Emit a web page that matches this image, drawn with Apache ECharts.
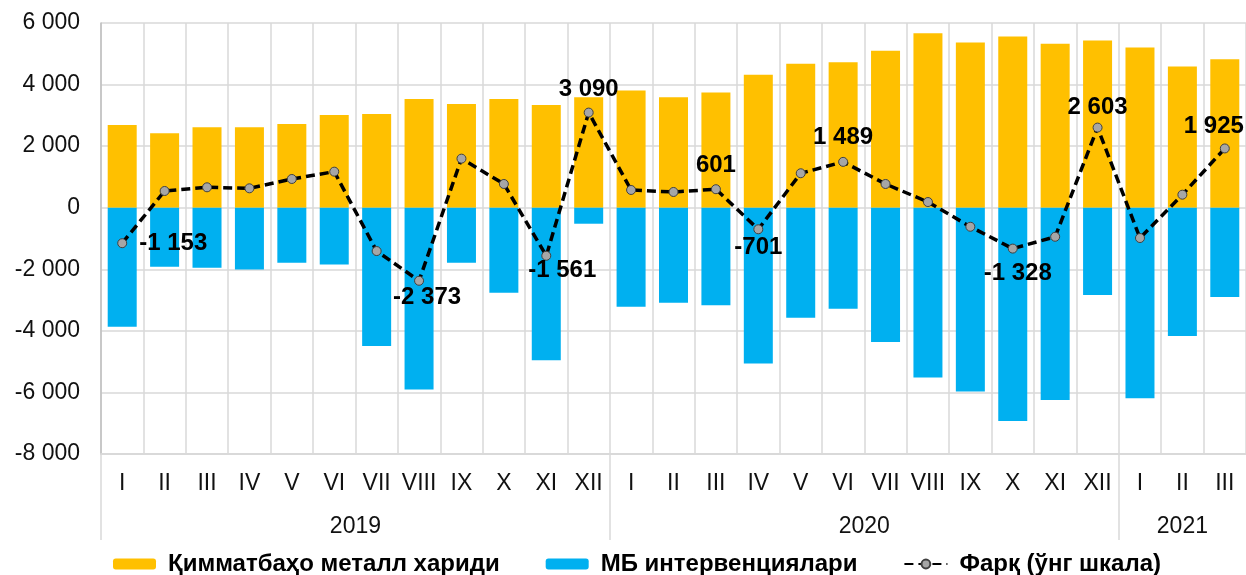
<!DOCTYPE html>
<html>
<head>
<meta charset="utf-8">
<script src="https://cdn.jsdelivr.net/npm/echarts@6/dist/echarts.min.js"></script>
<style>
  html, body { margin: 0; padding: 0; background: #fff; }
  #chart { width: 1246px; height: 575px; }
</style>
</head>
<body>
<div id="chart"></div>
<script>
// months, 2019 I .. 2021 III
const months = ['I', 'II', 'III', 'IV', 'V', 'VI', 'VII', 'VIII', 'IX', 'X', 'XI', 'XII',
  'I', 'II', 'III', 'IV', 'V', 'VI', 'VII', 'VIII', 'IX', 'X', 'XI', 'XII',
  'I', 'II', 'III'];
const years = ['2019', '2020', '2021'];
const monthsPerYear = [12, 12, 3];

// Қимматбаҳо металл хариди (yellow)
const metalPurchase = [2690, 2420, 2615, 2615, 2720, 3015, 3047, 3535, 3372, 3535, 3340, 3590,
  3805, 3590, 3740, 4315, 4673, 4728, 5096, 5671, 5366, 5561, 5323, 5431,
  5203, 4585, 4826];
// МБ интервенциялари (blue)
const cbInterventions = [-3870, -1919, -1951, -2004, -1789, -1842, -4488, -5906, -1789, -2764, -4954, -520,
  -3220, -3090, -3165, -5060, -3577, -3284, -4358, -5516, -5971, -6927, -6244, -2839,
  -6189, -4163, -2904];
// Фарқ (line)
const difference = [-1153, 543, 663, 630, 933, 1171, -1408, -2373, 1594, 771, -1561, 3090,
  576, 511, 601, -701, 1119, 1489, 771, 185, -618, -1328, -943, 2603,
  -985, 423, 1925];

// which points get a value label, and where
const labelled = {
  0: { position: 'right', distance: 12 },
  7: { position: 'bottom', distance: 0, offset: [8, 0] },
  10: { position: 'bottom', distance: -2, offset: [16, 0] },
  11: { position: 'top', distance: 6 },
  14: { position: 'top', distance: 7 },
  15: { position: 'bottom', distance: 1 },
  17: { position: 'top', distance: 7 },
  21: { position: 'bottom', distance: 8, offset: [5, 0] },
  23: { position: 'top', distance: 3 },
  26: { position: 'top', distance: 5, offset: [-11, 0] }
};

function fmt(v) {
  return String(v).replace(/\B(?=(\d{3})+(?!\d))/g, ' ');
}

// year boundaries (start of each year) and centres on the month scale
const yearTicks = [];
const yearCentres = [];
let start = 0;
monthsPerYear.forEach(function (n) {
  yearTicks.push(start);
  yearCentres.push(start + n / 2);
  start += n;
});

const FONT = '"Liberation Sans", Arial, sans-serif';
const GRID = '#d9d9d9';
const chart = echarts.init(document.getElementById('chart'));

const lineData = difference.map(function (v, i) {
  const cfg = labelled[i];
  if (!cfg) return v;
  return { value: v, label: Object.assign({ show: true }, cfg) };
});

chart.setOption({
  animation: false,
  textStyle: { fontFamily: FONT },
  grid: { left: 101, right: -3, top: 23, bottom: 121 },
  legend: {
    bottom: -6,
    left: 108,
    itemGap: 46,
    itemWidth: 43,
    itemHeight: 11,
    textStyle: { fontSize: 24, fontWeight: 'bold', color: '#000', padding: [0, 0, 0, 7] },
    data: ['Қимматбаҳо металл хариди', 'МБ интервенциялари', 'Фарқ (ўнг шкала)']
  },
  xAxis: [
    {
      type: 'category',
      data: months,
      axisLine: { onZero: false, lineStyle: { color: GRID, width: 1.5 } },
      axisTick: { show: false },
      splitLine: { show: true, lineStyle: { color: GRID, width: 1.5 } },
      axisLabel: { interval: 0, fontSize: 23, color: '#111', margin: 18 }
    },
    {
      type: 'value',
      min: 0,
      max: months.length,
      position: 'bottom',
      axisLine: { show: true, onZero: false, lineStyle: { color: GRID, width: 1.5 } },
      splitLine: { show: false },
      axisTick: {
        show: true,
        inside: false,
        customValues: yearTicks,
        length: 86,
        lineStyle: { color: GRID, width: 1.5 }
      },
      axisLabel: {
        customValues: yearCentres,
        fontSize: 23,
        color: '#111',
        margin: 61,
        formatter: function (v) {
          const i = yearCentres.indexOf(v);
          return i >= 0 ? years[i] : '';
        }
      }
    }
  ],
  yAxis: {
    type: 'value',
    min: -8000,
    max: 6000,
    interval: 2000,
    axisLine: { show: true, lineStyle: { color: '#bfbfbf', width: 1.5 } },
    axisTick: { show: false },
    splitLine: { lineStyle: { color: GRID, width: 1.5 } },
    axisLabel: { fontSize: 23, color: '#111', margin: 21, formatter: fmt }
  },
  series: [
    {
      name: 'Қимматбаҳо металл хариди',
      type: 'bar',
      stack: 'flows',
      data: metalPurchase,
      barWidth: 29,
      itemStyle: { color: '#ffc000' }
    },
    {
      name: 'МБ интервенциялари',
      type: 'bar',
      stack: 'flows',
      data: cbInterventions,
      barWidth: 29,
      itemStyle: { color: '#00b0f0' }
    },
    {
      name: 'Фарқ (ўнг шкала)',
      type: 'line',
      data: lineData,
      symbol: 'circle',
      symbolSize: 9,
      z: 5,
      lineStyle: { color: '#000', width: 3.5, type: [9, 5] },
      itemStyle: { color: '#a6a6a6', borderColor: '#404040', borderWidth: 1 },
      label: {
        show: false,
        fontSize: 24,
        fontWeight: 'bold',
        color: '#000',
        formatter: function (p) { return fmt(p.value); }
      }
    }
  ]
});
</script>
</body>
</html>
